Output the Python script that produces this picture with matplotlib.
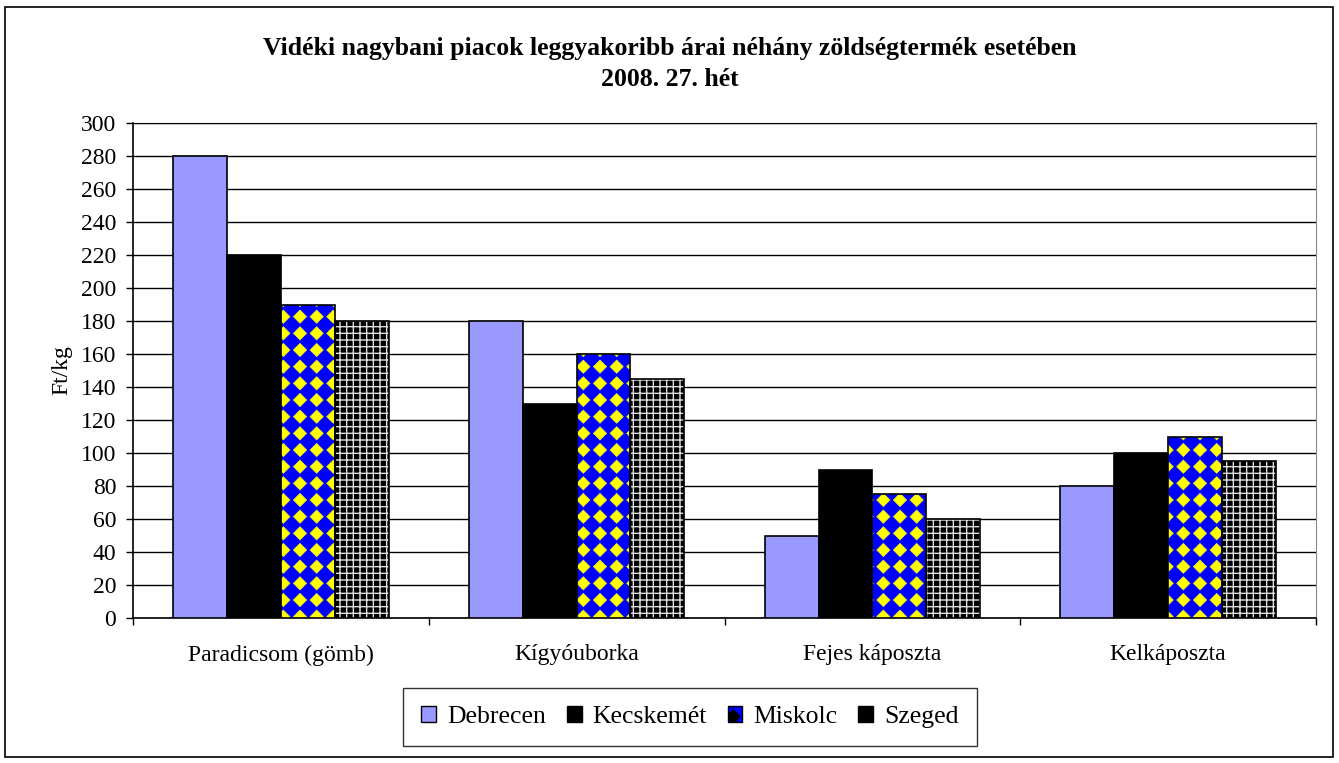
import warnings
import numpy as np
import matplotlib.pyplot as plt
import matplotlib.hatch as mhatch
from matplotlib.path import Path
from matplotlib.patches import Rectangle, Patch

warnings.filterwarnings("ignore")

# data
categories = ["Paradicsom (gömb)", "Kígyóuborka", "Fejes káposzta", "Kelkáposzta"]
cities = ["Debrecen", "Kecskemét", "Miskolc", "Szeged"]
debrecen = [280, 180, 50, 80]
kecskemet = [220, 130, 90, 100]
miskolc = [190, 160, 75, 110]
szeged = [180, 145, 60, 95]
series = [debrecen, kecskemet, miskolc, szeged]


# custom fill patterns like the excel ones
class DiamondHatch(mhatch.HatchPatternBase):
    # filled diamonds on a square lattice ('d')
    def __init__(self, hatch, density):
        self.n = hatch.count('d') * density
        self.num_vertices = (self.n + 1) ** 2 * 5 if self.n else 0

    def set_vertices_and_codes(self, vertices, codes):
        n = self.n
        h = 0.40 / n
        c = np.linspace(0, 1, n + 1)
        cx, cy = np.meshgrid(c, c)
        centers = np.stack([cx.ravel(), cy.ravel()], 1)
        shape = np.array([[0, -h], [h, 0], [0, h], [-h, 0], [0, -h]])
        vertices[:] = (shape[None, :, :] + centers[:, None, :]).reshape(-1, 2)
        cc = np.full((len(centers), 5), Path.LINETO)
        cc[:, 0] = Path.MOVETO
        cc[:, 4] = Path.CLOSEPOLY
        codes[:] = cc.ravel()


class GridHatch(mhatch.HatchPatternBase):
    # fine square grid ('g')
    def __init__(self, hatch, density):
        self.n = hatch.count('g') * 15
        self.num_vertices = (self.n + 1) * 4 if self.n else 0

    def set_vertices_and_codes(self, vertices, codes):
        s = np.linspace(0, 1, self.n + 1)
        m = len(s)
        v = np.empty((m * 4, 2))
        v[0:2 * m:2] = np.stack([np.zeros(m), s], 1)
        v[1:2 * m:2] = np.stack([np.ones(m), s], 1)
        v[2 * m::2] = np.stack([s, np.zeros(m)], 1)
        v[2 * m + 1::2] = np.stack([s, np.ones(m)], 1)
        vertices[:] = v
        codes[0::2] = Path.MOVETO
        codes[1::2] = Path.LINETO


mhatch._hatch_types.append(DiamondHatch)
mhatch._hatch_types.append(GridHatch)

# fill styles: (face, hatch, hatch colour, hatch linewidth)
styles = [
    ("#9999FF", None, None, 1.0),
    ("#000000", None, None, 1.0),
    ("#0000FF", "d", "#FFFF00", 0.4),
    ("#000000", "g", "#E0E0E0", 1.0),
]

plt.rcParams['font.family'] = ['Liberation Serif', 'DejaVu Serif']

fig = plt.figure(figsize=(13.39, 7.63), dpi=100)
ax = fig.add_axes([133 / 1339, 1 - 618 / 763, (1316 - 133) / 1339, (618 - 123) / 763])

x = np.arange(len(categories))
w = 0.182
for i, vals in enumerate(series):
    face, hatch, hcol, hlw = styles[i]
    pos = x + (i - 1.5) * w
    if hatch:
        plt.rcParams['hatch.linewidth'] = hlw
        ax.bar(pos, vals, w, color=face, hatch=hatch, edgecolor=hcol, linewidth=0, zorder=3)
        ax.bar(pos, vals, w, fill=False, edgecolor="black", linewidth=1.2, zorder=4)
    else:
        ax.bar(pos, vals, w, color=face, edgecolor="black", linewidth=1.2, zorder=3)

ax.set_ylim(0, 300)
ax.set_yticks(range(0, 301, 20))
ax.set_xlim(-0.5, len(categories) - 0.5)
ax.set_xticks(x)
ax.set_xticklabels(categories, fontsize=17)
ax.set_xticks(np.arange(-0.5, len(categories), 1), minor=True)
ax.tick_params(axis='x', which='major', length=0, pad=19)
ax.tick_params(axis='x', which='minor', length=5, direction='out', width=1)
ax.tick_params(axis='y', labelsize=17, length=5, direction='out', width=1, pad=7)
ax.yaxis.grid(True, color="black", linewidth=1, zorder=0)
ax.set_axisbelow(True)
ax.spines['top'].set_color("black")
ax.spines['right'].set_color("#888888")
ax.spines['left'].set_linewidth(1.2)
ax.spines['bottom'].set_linewidth(1.2)
ax.set_ylabel("Ft/kg", fontsize=17, labelpad=6)

fig.text(0.5, 1 - 64 / 763, "Vidéki nagybani piacok leggyakoribb árai néhány zöldségtermék esetében\n2008. 27. hét",
         ha="center", va="center", fontsize=18.5, fontweight="bold", linespacing=1.45)

# legend handles
plt.rcParams['hatch.linewidth'] = 1.0
handles = []
for i, name in enumerate(cities):
    face, hatch, hcol, hlw = styles[i]
    handles.append(Patch(facecolor=face, edgecolor="black", label=name))
leg = fig.legend(handles=handles, loc="center", bbox_to_anchor=(690 / 1339, 1 - 717 / 763),
                 ncol=4, fontsize=18.5, frameon=True, fancybox=False, edgecolor="black",
                 handlelength=0.58, handleheight=0.58, handletextpad=0.43, columnspacing=0.8,
                 borderpad=0.7)
leg.get_frame().set_linewidth(1)
# put the patterns on the legend squares
for patch, st in zip(leg.get_patches(), styles):
    if st[1]:
        patch.set_hatch(st[1])
        patch.set_facecolor(st[0])
        patch.set_edgecolor("black")

# outer border
fig.patches.append(Rectangle((5 / 1339, 1 - 757 / 763), 1328 / 1339, 750 / 763,
                             transform=fig.transFigure, fill=False, edgecolor="black", linewidth=1.2))

fig.savefig("out.png", dpi=100)
